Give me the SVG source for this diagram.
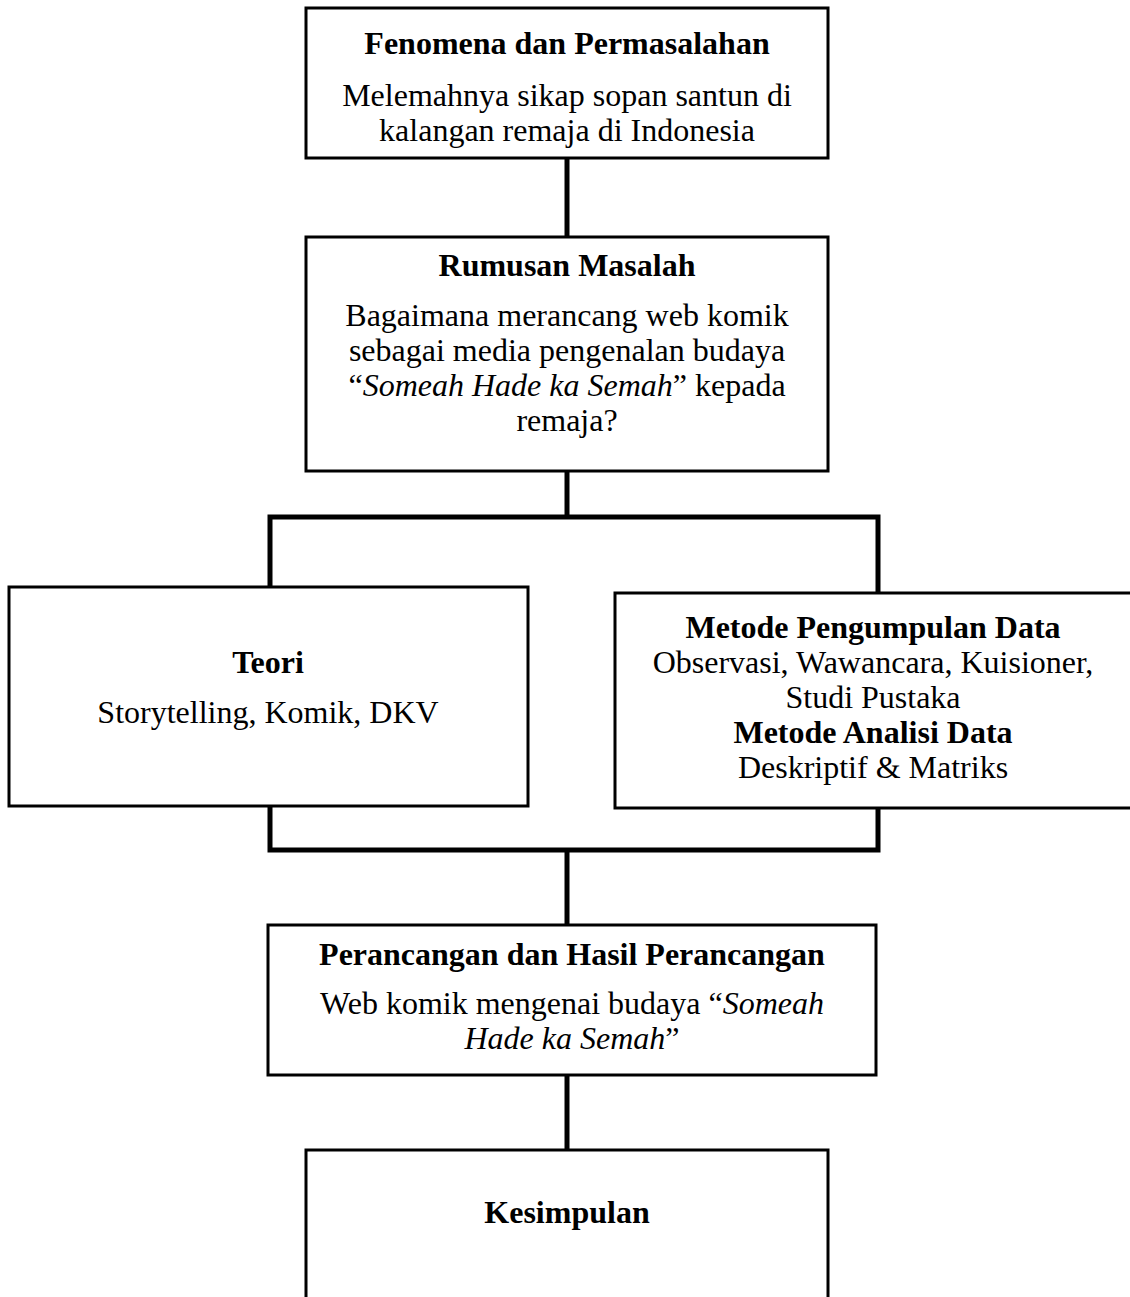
<svg xmlns="http://www.w3.org/2000/svg" width="1130" height="1297" viewBox="0 0 1130 1297">
<style>
.box{fill:#fff;stroke:#000;stroke-width:3}
.con{fill:none;stroke:#000;stroke-width:5}
.t{text-anchor:middle;fill:#000}
.b{font-weight:bold}
.i{font-style:italic}
</style>
<rect width="1130" height="1297" fill="#fff"/>
<g id="connectors">
<path class="con" d="M567 158V237"/>
<path class="con" d="M567 471V517"/>
<path class="con" d="M270 590V517H878V593"/>
<path class="con" d="M270 806V850H878V808"/>
<path class="con" d="M567 850V925"/>
<path class="con" d="M567 1075V1150"/>
</g>
<g id="fenomena">
<rect class="box" x="306" y="8" width="522" height="150"/>
<text class="t b" font-family="Liberation Serif" font-size="32" x="567" y="54">Fenomena dan Permasalahan</text>
<text class="t" font-family="Liberation Serif" font-size="32" x="567" y="106">Melemahnya sikap sopan santun di</text>
<text class="t" font-family="Liberation Serif" font-size="32" x="567" y="141">kalangan remaja di Indonesia</text>
</g>
<g id="rumusan">
<rect class="box" x="306" y="237" width="522" height="234"/>
<text class="t b" font-family="Liberation Serif" font-size="32" x="567" y="276">Rumusan Masalah</text>
<text class="t" font-family="Liberation Serif" font-size="32" x="567" y="326">Bagaimana merancang web komik</text>
<text class="t" font-family="Liberation Serif" font-size="32" x="567" y="361">sebagai media pengenalan budaya</text>
<text class="t" font-family="Liberation Serif" font-size="32" x="567" y="396">“<tspan class="i">Someah Hade ka Semah</tspan>” kepada</text>
<text class="t" font-family="Liberation Serif" font-size="32" x="567" y="431">remaja?</text>
</g>
<g id="teori">
<rect class="box" x="9" y="587" width="519" height="219"/>
<text class="t b" font-family="Liberation Serif" font-size="32" x="268" y="673">Teori</text>
<text class="t" font-family="Liberation Serif" font-size="32" x="268" y="723">Storytelling, Komik, DKV</text>
</g>
<g id="metode">
<rect class="box" x="615" y="593" width="520" height="215"/>
<text class="t b" font-family="Liberation Serif" font-size="32" x="873" y="638">Metode Pengumpulan Data</text>
<text class="t" font-family="Liberation Serif" font-size="32" x="873" y="673">Observasi, Wawancara, Kuisioner,</text>
<text class="t" font-family="Liberation Serif" font-size="32" x="873" y="708">Studi Pustaka</text>
<text class="t b" font-family="Liberation Serif" font-size="32" x="873" y="743">Metode Analisi Data</text>
<text class="t" font-family="Liberation Serif" font-size="32" x="873" y="778">Deskriptif &amp; Matriks</text>
</g>
<g id="perancangan">
<rect class="box" x="268" y="925" width="608" height="150"/>
<text class="t b" font-family="Liberation Serif" font-size="32" x="572" y="965">Perancangan dan Hasil Perancangan</text>
<text class="t" font-family="Liberation Serif" font-size="32" x="572" y="1014">Web komik mengenai budaya “<tspan class="i">Someah</tspan></text>
<text class="t" font-family="Liberation Serif" font-size="32" x="572" y="1049"><tspan class="i">Hade ka Semah</tspan>”</text>
</g>
<g id="kesimpulan">
<rect class="box" x="306" y="1150" width="522" height="200"/>
<text class="t b" font-family="Liberation Serif" font-size="32" x="567" y="1223">Kesimpulan</text>
</g>
</svg>
